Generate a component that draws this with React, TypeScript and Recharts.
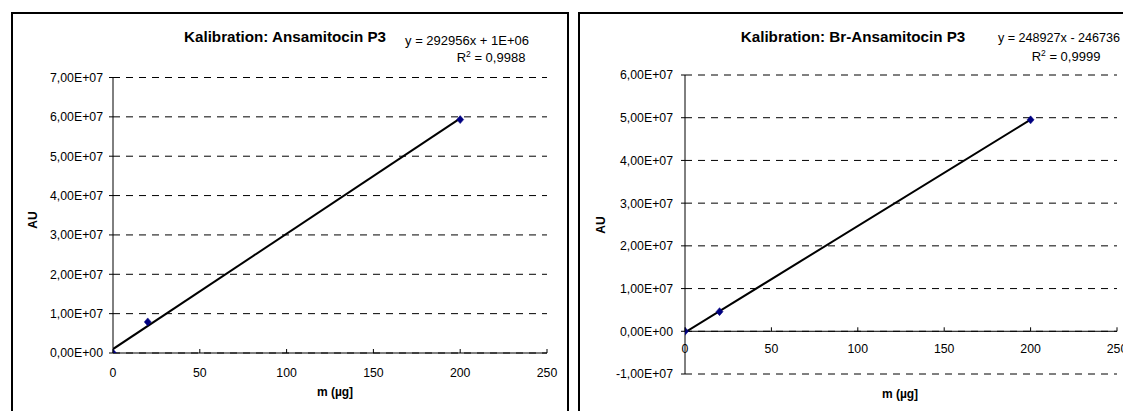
import React from 'react';
import {
  ScatterChart,
  Scatter,
  XAxis,
  YAxis,
  CartesianGrid,
  ReferenceLine,
} from 'recharts';

// ---------- data ----------
const xTicks = [0, 50, 100, 150, 200, 250];
const leftYTicks = [0, 1e7, 2e7, 3e7, 4e7, 5e7, 6e7, 7e7];
const rightYTicks = [-1e7, 0, 1e7, 2e7, 3e7, 4e7, 5e7, 6e7];

const leftPoints = [
  { m: 0, au: 0 },
  { m: 20, au: 7.9e6 },
  { m: 200, au: 5.93e7 },
];
const leftTrend = [
  { m: 0, au: 1.0e6 },
  { m: 200, au: 5.96e7 },
];
const rightPoints = [
  { m: 0, au: 0 },
  { m: 20, au: 4.6e6 },
  { m: 200, au: 4.95e7 },
];
const rightTrend = [
  { m: 0, au: -2.5e5 },
  { m: 200, au: 4.954e7 },
];

const leftTitle = 'Kalibration: Ansamitocin P3';
const rightTitle = 'Kalibration: Br-Ansamitocin P3';
const leftEq = 'y = 292956x + 1E+06';
const leftR2 = '0,9988';
const rightEq = 'y = 248927x - 246736';
const rightR2 = '0,9999';
const yLabel = 'AU';
const xLabel = 'm (µg]';

// ---------- helpers ----------
const FONT = '"Liberation Sans", Arial, sans-serif';
const TICK_FS = 12.3;

function excelSci(v: number): string {
  if (v === 0) return '0,00E+00';
  const exp = Math.floor(Math.log10(Math.abs(v)) + 1e-9);
  const mant = v / Math.pow(10, exp);
  return (
    mant.toFixed(2).replace('.', ',') +
    'E' +
    (exp < 0 ? '-' : '+') +
    String(Math.abs(exp)).padStart(2, '0')
  );
}

const Diamond = (props: any) => {
  const { cx, cy } = props;
  if (cx == null || cy == null) return null;
  const w = 3.5;
  const h = 4;
  return (
    <polygon
      points={`${cx},${cy - h} ${cx + w},${cy} ${cx},${cy + h} ${cx - w},${cy}`}
      fill="#000080"
      stroke="#000080"
      strokeWidth={0.5}
    />
  );
};

const NoShape = () => <g />;

function makeXTick(shift: number, labelOffset: number) {
  return (props: any) => {
    const { x, y, payload } = props;
    const ay = y - shift;
    return (
      <g>
        <line x1={x} y1={ay} x2={x} y2={ay - 4} stroke="#000" strokeWidth={1} />
        <text
          x={x}
          y={ay + labelOffset}
          textAnchor="middle"
          fontSize={TICK_FS}
          fontFamily={FONT}
          fill="#000"
        >
          {payload.value}
        </text>
      </g>
    );
  };
}

type PanelProps = {
  frameLeft: number;
  chartWidth: number;
  margin: { top: number; right: number; bottom: number; left: number };
  yAxisWidth: number;
  plotHeight: number;
  yTicks: number[];
  points: { m: number; au: number }[];
  trend: { m: number; au: number }[];
  tickMargin: number;
  labelOffset: number;
};

const CH = 430;

function Panel(p: PanelProps) {
  const yMin = p.yTicks[0];
  const yMax = p.yTicks[p.yTicks.length - 1];
  const shift = (p.plotHeight * (0 - yMin)) / (yMax - yMin);
  const axisAtBottom = yMin === 0;
  return (
    <div style={{ position: 'absolute', left: p.frameLeft, top: 12 }}>
      <ScatterChart width={p.chartWidth} height={CH} margin={p.margin}>
        <CartesianGrid
          horizontal
          vertical={false}
          stroke="#000"
          strokeDasharray="7 6"
        />
        <XAxis
          type="number"
          dataKey="m"
          domain={[0, 250]}
          ticks={xTicks}
          interval={0}
          height={30}
          tickSize={0}
          tickMargin={0}
          tickLine={false}
          axisLine={axisAtBottom ? { stroke: '#000', strokeWidth: 1 } : false}
          tick={makeXTick(shift, p.labelOffset)}
          allowDataOverflow
        />
        <YAxis
          type="number"
          dataKey="au"
          domain={[yMin, yMax]}
          ticks={p.yTicks}
          interval={0}
          width={p.yAxisWidth}
          tickFormatter={excelSci}
          tickSize={4}
          tickMargin={p.tickMargin}
          axisLine={{ stroke: '#000', strokeWidth: 1 }}
          tickLine={{ stroke: '#000', strokeWidth: 1 }}
          tick={{ fill: '#000', fontSize: TICK_FS, fontFamily: FONT }}
          allowDataOverflow
        />
        {!axisAtBottom && (
          <ReferenceLine y={0} stroke="#000" strokeWidth={1} ifOverflow="extendDomain" />
        )}
        <Scatter
          data={p.trend}
          line={{ stroke: '#000', strokeWidth: 2 }}
          lineType="joint"
          shape={NoShape}
          isAnimationActive={false}
          legendType="none"
        />
        <Scatter
          data={p.points}
          shape={Diamond}
          isAnimationActive={false}
          legendType="none"
        />
      </ScatterChart>
    </div>
  );
}

const txt = (extra: React.CSSProperties): React.CSSProperties => ({
  position: 'absolute',
  fontFamily: FONT,
  color: '#000',
  lineHeight: 1,
  whiteSpace: 'nowrap',
  transform: 'translate(-50%, -50%)',
  ...extra,
});

function R2Text({ value, left, top }: { value: string; left: number; top: number }) {
  return (
    <div style={txt({ left, top, fontSize: 13 })}>
      R<span style={{ fontSize: 8.5, position: 'relative', top: -5 }}>2</span> = {value}
    </div>
  );
}

export default function App() {
  return (
    <div
      style={{
        position: 'absolute',
        left: 0,
        top: 0,
        width: 1123,
        height: 411,
        overflow: 'hidden',
        background: '#fff',
      }}
    >
      {/* frames */}
      <div
        style={{
          position: 'absolute',
          left: 11,
          top: 12,
          width: 558,
          height: 440,
          border: '2px solid #000',
          boxSizing: 'border-box',
        }}
      />
      <div
        style={{
          position: 'absolute',
          left: 578,
          top: 12,
          width: 600,
          height: 440,
          border: '2px solid #000',
          boxSizing: 'border-box',
        }}
      />

      <Panel
        frameLeft={11}
        chartWidth={558}
        margin={{ top: 65.5, right: 22, bottom: CH - 341 - 30, left: 0 }}
        yAxisWidth={102}
        plotHeight={341 - 65.5}
        yTicks={leftYTicks}
        points={leftPoints}
        trend={leftTrend}
        tickMargin={6}
        labelOffset={24}
      />
      <Panel
        frameLeft={578}
        chartWidth={580}
        margin={{ top: 63, right: 41, bottom: CH - 362 - 30, left: 0 }}
        yAxisWidth={107}
        plotHeight={362 - 63}
        yTicks={rightYTicks}
        points={rightPoints}
        trend={rightTrend}
        tickMargin={8}
        labelOffset={22}
      />

      {/* titles & trendline labels */}
      <div style={txt({ left: 285, top: 37, fontSize: 15.2, fontWeight: 'bold' })}>{leftTitle}</div>
      <div style={txt({ left: 467, top: 40, fontSize: 13 })}>{leftEq}</div>
      <R2Text value={leftR2} left={491} top={57} />

      <div style={txt({ left: 853, top: 37, fontSize: 15.2, fontWeight: 'bold' })}>{rightTitle}</div>
      <div style={txt({ left: 1059, top: 38, fontSize: 12.6 })}>{rightEq}</div>
      <R2Text value={rightR2} left={1066} top={56} />

      {/* axis titles */}
      <div style={txt({ left: 33, top: 220, fontSize: 12, fontWeight: 'bold', transform: 'translate(-50%, -50%) rotate(-90deg)' })}>{yLabel}</div>
      <div style={txt({ left: 335, top: 392, fontSize: 12, fontWeight: 'bold' })}>{xLabel}</div>
      <div style={txt({ left: 601, top: 225, fontSize: 12, fontWeight: 'bold', transform: 'translate(-50%, -50%) rotate(-90deg)' })}>{yLabel}</div>
      <div style={txt({ left: 900, top: 394, fontSize: 12, fontWeight: 'bold' })}>{xLabel}</div>
    </div>
  );
}
